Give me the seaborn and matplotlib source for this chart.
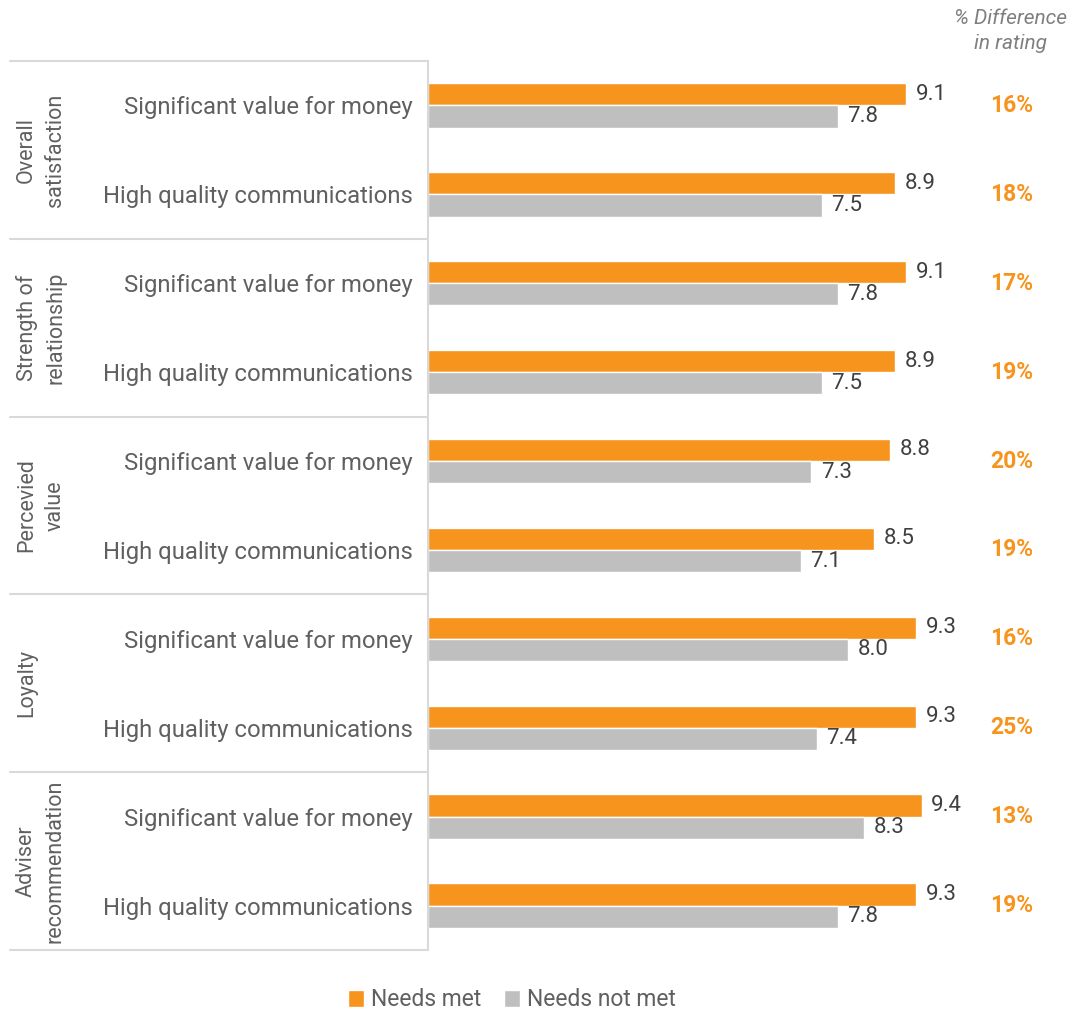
import pandas as pd
import matplotlib.pyplot as plt
import matplotlib.transforms as mtransforms
import seaborn as sns

# --- Data ---
groups = ['Overall\nsatisfaction', 'Strength of\nrelationship', 'Percevied\nvalue',
          'Loyalty', 'Adviser\nrecommendation']
measures = ['Significant value for money', 'High quality communications']
needs_met = [9.1, 8.9, 9.1, 8.9, 8.8, 8.5, 9.3, 9.3, 9.4, 9.3]
needs_not_met = [7.8, 7.5, 7.8, 7.5, 7.3, 7.1, 8.0, 7.4, 8.3, 7.8]
pct_diff = ['16%', '18%', '17%', '19%', '20%', '19%', '16%', '25%', '13%', '19%']
series = ['Needs met', 'Needs not met']

ORANGE = '#F7941D'
GREY = '#BFBFBF'
TEXT = '#606060'
VALTEXT = '#404040'
LINE = '#D9D9D9'

# --- Long format table ---
rows = []
for i, (a, b) in enumerate(zip(needs_met, needs_not_met)):
    key = f'r{i}'
    rows.append({'row': key, 'series': series[0], 'value': a})
    rows.append({'row': key, 'series': series[1], 'value': b})
df = pd.DataFrame(rows)
row_labels = [measures[i % 2] for i in range(len(needs_met))]

sns.set_style('white')
plt.rcParams['font.family'] = ['Roboto', 'DejaVu Sans']

W, H = 1074, 1015
fig = plt.figure(figsize=(W / 100, H / 100), dpi=100)
ax_left, ax_right, ax_top, ax_bottom = 428, 1074, 61, 950
ax = fig.add_axes([ax_left / W, 1 - ax_bottom / H,
                   (ax_right - ax_left) / W, (ax_bottom - ax_top) / H])

sns.barplot(data=df, y='row', x='value', hue='series', orient='h', width=0.5,
            palette=[ORANGE, GREY], saturation=1, ax=ax)

ax.set_xlim(0, (ax_right - ax_left) / 52.5)
ax.set_ylim(len(needs_met) - 0.5, -0.5)

for cont in ax.containers:
    ax.bar_label(cont, fmt='%.1f', padding=7, fontsize=16, color=VALTEXT)

# row labels
ax.set_yticks(range(len(row_labels)))
ax.set_yticklabels(row_labels, fontsize=17.2, color=TEXT)
ax.tick_params(axis='y', length=0, pad=11)
ax.set_xticks([])
ax.set_xlabel('')
ax.set_ylabel('')

for s in ['top', 'right', 'bottom']:
    ax.spines[s].set_visible(False)
ax.spines['left'].set_color(LINE)
ax.spines['left'].set_linewidth(1.5)

# table separators and group labels on the left
trans = mtransforms.blended_transform_factory(ax.transAxes, ax.transData)
x0 = (10 - ax_left) / (ax_right - ax_left)
for k in range(len(groups) + 1):
    y = k * 2 - 0.5
    ax.plot([x0, 0], [y, y], color=LINE, lw=1.5, transform=trans, clip_on=False)
for k, g in enumerate(groups):
    ax.text((16 - ax_left) / (ax_right - ax_left), k * 2 + 0.5, g, transform=trans,
            rotation=90, ha='left', va='center', multialignment='center',
            fontsize=15.5, color=TEXT, linespacing=1.5)

# % difference column
px = (1012 - ax_left) / (ax_right - ax_left)
for i, p in enumerate(pct_diff):
    ax.text(px, i, p, transform=trans, ha='center', va='center',
            fontsize=16.5, fontweight='bold', color=ORANGE)
fig.text(1011 / W, 1 - 31 / H, '% Difference\nin rating', ha='center', va='center',
         fontsize=15, fontstyle='italic', color='#7F7F7F', linespacing=1.4)

# legend
handles, labels = ax.get_legend_handles_labels()
ax.get_legend().remove()
fig.legend(handles, labels, loc='center', bbox_to_anchor=(512 / W, 1 - 1000 / H),
           ncol=2, frameon=False, fontsize=16.5, handlelength=0.7, handleheight=0.7,
           handletextpad=0.3, columnspacing=1.0, labelcolor=TEXT)

fig.savefig('out.png', dpi=100, facecolor='white')
